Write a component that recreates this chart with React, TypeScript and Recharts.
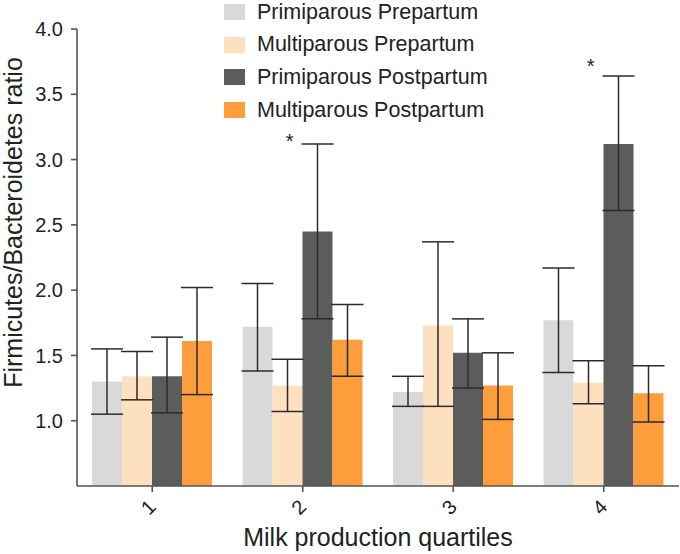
import React from 'react';
import { BarChart, Bar, XAxis, YAxis, ErrorBar, Legend, Label, ReferenceDot } from 'recharts';

// quartile categories
const quartiles = ['1', '2', '3', '4'];

// series names + colours
const seriesNames = ['Primiparous Prepartum', 'Multiparous Prepartum', 'Primiparous Postpartum', 'Multiparous Postpartum'];
const seriesColors = ['#d9d9d9', '#fde0c0', '#5b5d5d', '#fd9d3b'];

// means
const primiPre = [1.30, 1.72, 1.22, 1.77];
const multiPre = [1.34, 1.27, 1.73, 1.29];
const primiPost = [1.34, 2.45, 1.52, 3.12];
const multiPost = [1.61, 1.62, 1.27, 1.21];

// error bar ends (low / high)
const primiPreLow = [1.05, 1.38, 1.11, 1.37];
const primiPreHigh = [1.55, 2.05, 1.34, 2.17];
const multiPreLow = [1.16, 1.07, 1.11, 1.13];
const multiPreHigh = [1.53, 1.47, 2.37, 1.46];
const primiPostLow = [1.06, 1.78, 1.25, 2.61];
const primiPostHigh = [1.64, 3.12, 1.78, 3.64];
const multiPostLow = [1.20, 1.34, 1.01, 0.99];
const multiPostHigh = [2.02, 1.89, 1.52, 1.42];

// significance markers
const starQuartiles = ['2', '4'];
const starLevels = [3.17, 3.75];

const yTicks = [1.0, 1.5, 2.0, 2.5, 3.0, 3.5, 4.0];

const FONT = '"Liberation Sans", Arial, sans-serif';
const AXIS = '#555';

const err = (mean: number, lo: number, hi: number) => [+(mean - lo).toFixed(3), +(hi - mean).toFixed(3)];

const data = quartiles.map((q, i) => ({
  q,
  pp: primiPre[i],
  mp: multiPre[i],
  ppo: primiPost[i],
  mpo: multiPost[i],
  ppErr: err(primiPre[i], primiPreLow[i], primiPreHigh[i]),
  mpErr: err(multiPre[i], multiPreLow[i], multiPreHigh[i]),
  ppoErr: err(primiPost[i], primiPostLow[i], primiPostHigh[i]),
  mpoErr: err(multiPost[i], multiPostLow[i], multiPostHigh[i]),
}));

const keys = ['pp', 'mp', 'ppo', 'mpo'];

function XTick({ x, y, payload }: any) {
  return (
    <g transform={`translate(${x - 4},${y + 13})`}>
      <text transform="rotate(-45)" textAnchor="middle" dominantBaseline="central" fontSize={20} fontFamily={FONT} fill="#222">
        {payload.value}
      </text>
    </g>
  );
}

// legend in the series order, not the order recharts hands back
function LegendBox() {
  return (
    <div style={{ fontFamily: FONT, fontSize: 21.5, color: '#222' }}>
      {seriesNames.map((name, i) => (
        <div key={name} style={{ display: 'flex', alignItems: 'center', height: 32.6, whiteSpace: 'nowrap' }}>
          <span style={{ display: 'inline-block', width: 21, height: 16, background: seriesColors[i], marginRight: 12 }} />
          <span>{name}</span>
        </div>
      ))}
    </div>
  );
}

function Star(props: any) {
  return (
    <text x={props.cx - 13} y={props.cy + 11} textAnchor="middle" fontSize={20} fontFamily={FONT} fill="#222">
      *
    </text>
  );
}

export default function App() {
  return (
    <div style={{ position: 'absolute', left: 0, top: 0, background: '#fff' }}>
      <BarChart
        width={680}
        height={554}
        data={data}
        margin={{ top: 29, right: 1, left: 0, bottom: 0 }}
        barCategoryGap={15}
        barGap={0}
      >
        <XAxis
          dataKey="q"
          height={68}
          stroke={AXIS}
          strokeWidth={1.6}
          tickSize={6}
          tick={<XTick />}
          tickLine={{ stroke: AXIS, strokeWidth: 1.6 }}
        >
          <Label
            content={({ viewBox }: any) => (
              <text x={viewBox.x + viewBox.width / 2} y={viewBox.y + 60} textAnchor="middle" fontSize={25} fontFamily={FONT} fill="#222">
                Milk production quartiles
              </text>
            )}
          />
        </XAxis>
        <YAxis
          width={77}
          domain={[0.5, 4]}
          ticks={yTicks}
          tickFormatter={(v: number) => v.toFixed(1)}
          stroke={AXIS}
          strokeWidth={1.6}
          tickSize={6}
          tickMargin={8}
          tick={{ fontSize: 20, fontFamily: FONT, fill: '#222' }}
          tickLine={{ stroke: AXIS, strokeWidth: 1.6 }}
          allowDataOverflow
        >
          <Label
            content={({ viewBox }: any) => {
              const cx = viewBox.x + 22;
              const cy = viewBox.y + viewBox.height / 2 - 35;
              return (
                <text x={cx} y={cy} transform={`rotate(-90, ${cx}, ${cy})`} textAnchor="middle" fontSize={25} fontFamily={FONT} fill="#222">
                  Firmicutes/Bacteroidetes ratio
                </text>
              );
            }}
          />
        </YAxis>
        <Legend
          layout="vertical"
          align="center"
          verticalAlign="middle"
          content={<LegendBox />}
          wrapperStyle={{ top: -4, left: 224, width: 300 }}
        />
        {keys.map((k, i) => (
          <Bar key={k} dataKey={k} name={seriesNames[i]} fill={seriesColors[i]} isAnimationActive={false}>
            <ErrorBar dataKey={`${k}Err`} width={16} stroke="#2b2b2b" strokeWidth={1.5} direction="y" />
          </Bar>
        ))}
        {starQuartiles.map((q, i) => (
          <ReferenceDot key={q} x={q} y={starLevels[i]} r={0} shape={<Star />} ifOverflow="visible" />
        ))}
      </BarChart>
    </div>
  );
}
